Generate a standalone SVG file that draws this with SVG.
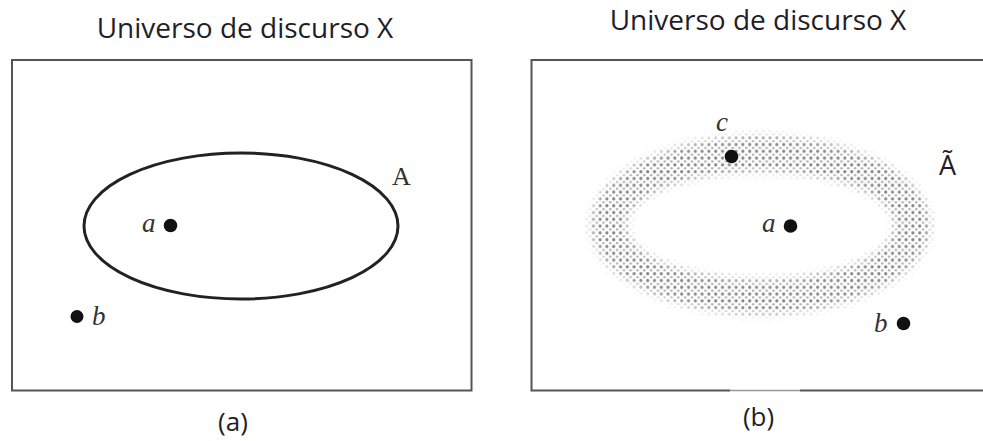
<svg xmlns="http://www.w3.org/2000/svg" width="983" height="441" viewBox="0 0 983 441">
<style>
.title{font-family:"Open Sans","Noto Sans",sans-serif;font-size:28px;fill:#1e1e28;text-anchor:middle}
.cap{font-family:"Open Sans","Noto Sans",sans-serif;font-size:26px;fill:#1e1e28;text-anchor:middle}
.var{font-family:"Liberation Serif","DejaVu Serif",serif;font-size:27px;font-style:italic;fill:#333}
.set{font-family:"Liberation Serif","DejaVu Serif",serif;font-size:26px;fill:#333}
.frame{fill:none;stroke:#555;stroke-width:2}
.dot{fill:#111}
</style>
<defs>
<pattern id="dots" width="6.8" height="6.8" patternUnits="userSpaceOnUse">
<circle cx="1.7" cy="1.7" r="1.6" fill="#858585"/>
<circle cx="5.1" cy="5.1" r="1.3" fill="#b0b0b0"/>
</pattern>
<filter id="soft" x="-20%" y="-20%" width="140%" height="140%"><feGaussianBlur stdDeviation="4"/></filter>
<mask id="ringmask" maskUnits="userSpaceOnUse" x="0" y="0" width="983" height="441">
<path fill="white" fill-rule="evenodd" filter="url(#soft)" d="M590.5 225a170 89 0 1 0 340 0a170 89 0 1 0 -340 0Z M626.5 225.5a134 54 0 1 0 268 0a134 54 0 1 0 -268 0Z"/>
</mask>
</defs>

<g id="panel-a">
<text class="title" x="245" y="38">Universo de discurso X</text>
<rect class="frame" x="12" y="60" width="459.5" height="330.5"/>
<g id="set-A">
<ellipse cx="241" cy="226" rx="157" ry="73" fill="none" stroke="#222" stroke-width="3"/>
<text class="set" x="392" y="185">A</text>
</g>
<g id="point-a-left">
<circle class="dot" cx="170.5" cy="225.5" r="6.8"/>
<text class="var" x="142" y="232">a</text>
</g>
<g id="point-b-left">
<circle class="dot" cx="77" cy="316.5" r="6.5"/>
<text class="var" x="92" y="325">b</text>
</g>
<text class="cap" x="233" y="431">(a)</text>
</g>

<g id="panel-b">
<text class="title" x="758" y="30">Universo de discurso X</text>
<path class="frame" d="M983 60H531.5V390.5H730"/>
<path class="frame" d="M800 390.5H983"/>
<path d="M730 390.5H800" stroke="#999" stroke-width="1.5" fill="none"/>
<g id="fuzzy-set-A">
<rect x="575" y="120" width="370" height="210" fill="url(#dots)" mask="url(#ringmask)"/>
<text x="947.5" y="175" style="font-family:'Open Sans','Noto Sans',sans-serif;font-size:27px;fill:#1e1e28;text-anchor:middle">Ã</text>
</g>
<g id="point-c">
<circle class="dot" cx="731.5" cy="156.5" r="6.8"/>
<text class="var" x="716" y="131">c</text>
</g>
<g id="point-a-right">
<circle class="dot" cx="790.5" cy="226" r="6.8"/>
<text class="var" x="762" y="232">a</text>
</g>
<g id="point-b-right">
<circle class="dot" cx="903.5" cy="323.5" r="6.8"/>
<text class="var" x="874" y="332">b</text>
</g>
<text class="cap" x="758.5" y="426">(b)</text>
</g>

<g id="connectors"/>
</svg>
